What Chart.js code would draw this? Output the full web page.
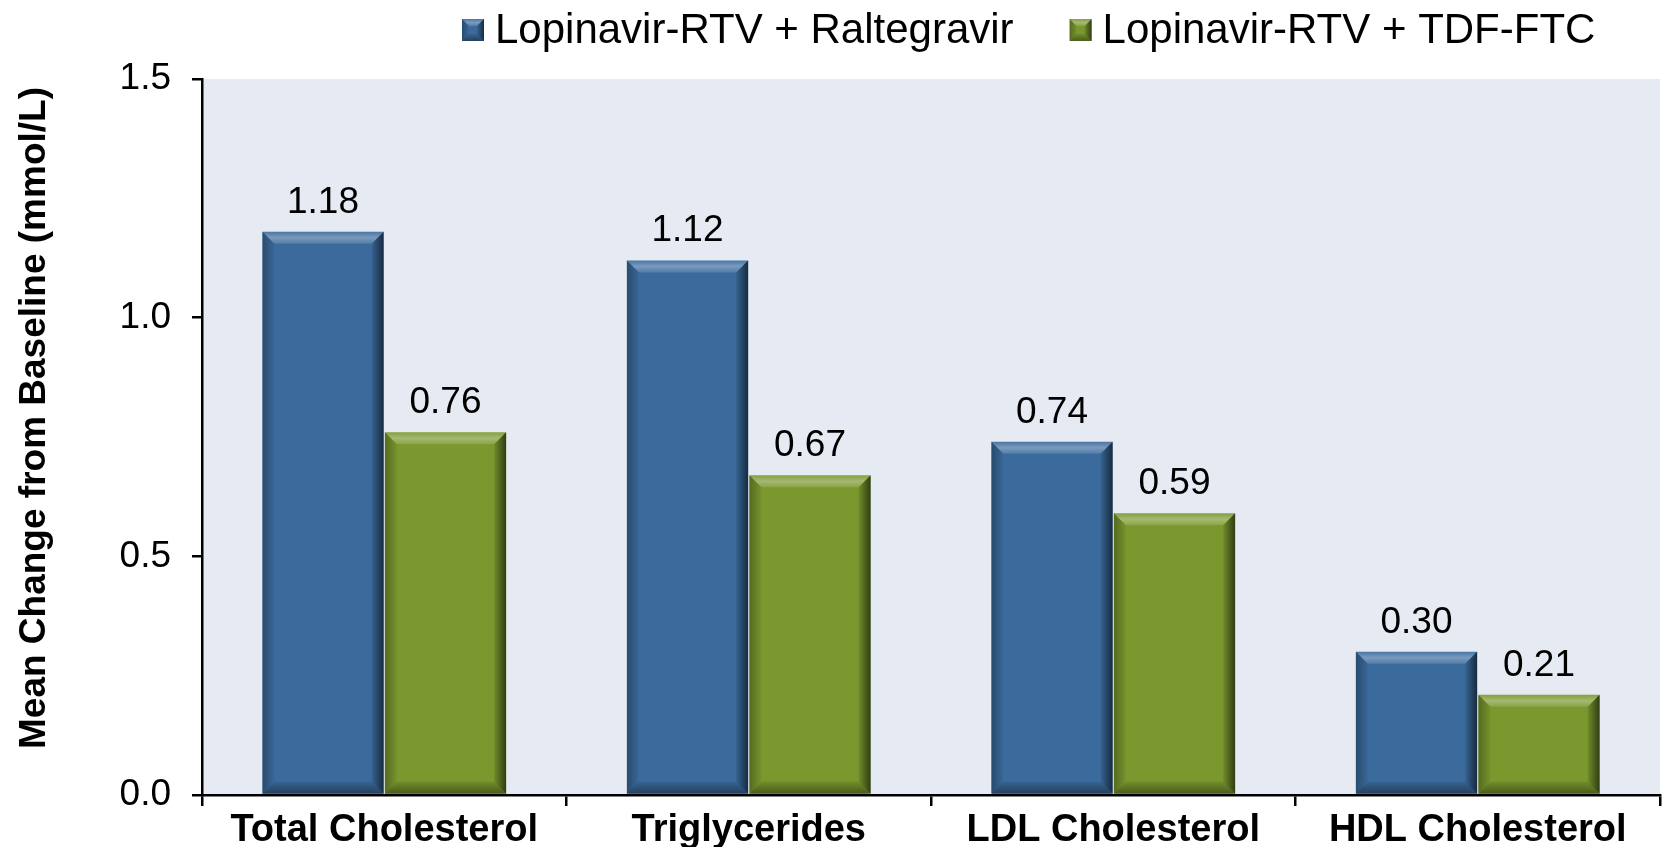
<!DOCTYPE html>
<html>
<head>
<meta charset="utf-8">
<title>Lipid changes</title>
<script src="https://cdn.jsdelivr.net/npm/chart.js@4.4.1/dist/chart.umd.min.js"></script>
<style>
  html, body { margin: 0; padding: 0; background: #fff; }
  canvas { display: block; }
</style>
</head>
<body>
<canvas id="lipids" width="1662" height="847"></canvas>
<script>
// Chart data
const categories = ['Total Cholesterol', 'Triglycerides', 'LDL Cholesterol', 'HDL Cholesterol'];
const seriesNames = ['Lopinavir-RTV + Raltegravir', 'Lopinavir-RTV + TDF-FTC'];
const raltegravirValues = [1.18, 1.12, 0.74, 0.30];
const tdfFtcValues = [0.76, 0.67, 0.59, 0.21];
const yTickValues = [0, 0.5, 1.0, 1.5];
const yTitle = 'Mean Change from Baseline (mmol/L)';

const FONT = '"Liberation Sans", Arial, Helvetica, sans-serif';
const colors = ['#3b6b9d', '#7a982e'];

// draws the bevelled edges over a rectangle
function drawBevel(ctx, l, t, r, b, w) {
  ctx.save();
  let g;
  // top face
  g = ctx.createLinearGradient(0, t, 0, t + w);
  g.addColorStop(0, 'rgba(255,255,255,0.08)');
  g.addColorStop(0.5, 'rgba(255,255,255,0.32)');
  g.addColorStop(1, 'rgba(255,255,255,0.12)');
  ctx.fillStyle = g;
  ctx.beginPath();
  ctx.moveTo(l, t); ctx.lineTo(r, t); ctx.lineTo(r - w, t + w); ctx.lineTo(l + w, t + w);
  ctx.closePath(); ctx.fill();
  // right face
  g = ctx.createLinearGradient(r - w, 0, r, 0);
  g.addColorStop(0, 'rgba(0,0,0,0.08)');
  g.addColorStop(1, 'rgba(0,0,0,0.6)');
  ctx.fillStyle = g;
  ctx.beginPath();
  ctx.moveTo(r, t); ctx.lineTo(r, b); ctx.lineTo(r - w, b - w); ctx.lineTo(r - w, t + w);
  ctx.closePath(); ctx.fill();
  // bottom face
  g = ctx.createLinearGradient(0, b - w, 0, b);
  g.addColorStop(0, 'rgba(0,0,0,0.08)');
  g.addColorStop(1, 'rgba(0,0,0,0.4)');
  ctx.fillStyle = g;
  ctx.beginPath();
  ctx.moveTo(l, b); ctx.lineTo(r, b); ctx.lineTo(r - w, b - w); ctx.lineTo(l + w, b - w);
  ctx.closePath(); ctx.fill();
  // left face
  g = ctx.createLinearGradient(l, 0, l + w, 0);
  g.addColorStop(0, 'rgba(0,0,0,0.3)');
  g.addColorStop(1, 'rgba(0,0,0,0.04)');
  ctx.fillStyle = g;
  ctx.beginPath();
  ctx.moveTo(l, t); ctx.lineTo(l + w, t + w); ctx.lineTo(l + w, b - w); ctx.lineTo(l, b);
  ctx.closePath(); ctx.fill();
  ctx.restore();
}

// plot area background
const plotBackground = {
  id: 'plotBackground',
  beforeDraw(chart) {
    const { ctx, chartArea: a } = chart;
    ctx.save();
    ctx.fillStyle = '#e6eaf2';
    ctx.fillRect(a.left, a.top, a.right - a.left, a.bottom - a.top);
    ctx.restore();
  }
};

// bevel + value labels on bars
const barDecor = {
  id: 'barDecor',
  afterDatasetsDraw(chart) {
    const ctx = chart.ctx;
    chart.data.datasets.forEach((ds, i) => {
      chart.getDatasetMeta(i).data.forEach((bar, j) => {
        const p = bar.getProps(['x', 'y', 'base', 'width'], true);
        const l = p.x - p.width / 2, r = p.x + p.width / 2;
        drawBevel(ctx, l, p.y, r, p.base, 12);
        ctx.save();
        ctx.fillStyle = '#000';
        ctx.font = '37px ' + FONT;
        ctx.textAlign = 'center';
        ctx.textBaseline = 'alphabetic';
        ctx.fillText(ds.data[j].toFixed(2), p.x, p.y - 19);
        ctx.restore();
      });
    });
  }
};

// legend at top and rotated axis title
const legendAndTitle = {
  id: 'legendAndTitle',
  afterDraw(chart) {
    const ctx = chart.ctx;
    ctx.save();
    ctx.font = '42px ' + FONT;
    ctx.textBaseline = 'alphabetic';
    ctx.textAlign = 'left';
    let x = 462;
    chart.data.datasets.forEach((ds, i) => {
      ctx.fillStyle = ds.backgroundColor;
      ctx.fillRect(x, 19, 22, 22);
      drawBevel(ctx, x, 19, x + 22, 41, 7);
      ctx.fillStyle = '#000';
      ctx.fillText(ds.label, x + 33, 43);
      x += 33 + ctx.measureText(ds.label).width + 56;
    });
    // y title
    ctx.translate(35, 418);
    ctx.rotate(-Math.PI / 2);
    ctx.font = 'bold 37px ' + FONT;
    ctx.textAlign = 'center';
    ctx.textBaseline = 'middle';
    ctx.fillText(yTitle, 0, 0);
    ctx.restore();
  }
};

new Chart(document.getElementById('lipids'), {
  type: 'bar',
  data: {
    labels: categories,
    datasets: [
      { label: seriesNames[0], data: raltegravirValues, backgroundColor: colors[0] },
      { label: seriesNames[1], data: tdfFtcValues, backgroundColor: colors[1] }
    ]
  },
  options: {
    responsive: false,
    animation: false,
    devicePixelRatio: 1,
    layout: { padding: { top: 79, right: 2, left: 0, bottom: 0 } },
    datasets: {
      bar: { categoryPercentage: 0.672, barPercentage: 0.99, borderWidth: 0 }
    },
    plugins: {
      legend: { display: false },
      tooltip: { enabled: false }
    },
    scales: {
      x: {
        z: 1,
        offset: true,
        grid: { offset: true, drawOnChartArea: false, drawTicks: true, tickLength: 11, color: '#000', lineWidth: 2.5 },
        border: { display: true, color: '#000', width: 2.5 },
        ticks: { color: '#000', font: { family: FONT, size: 38, weight: 'bold' }, padding: 2, maxRotation: 0 },
        afterFit(scale) { scale.height = 52; }
      },
      y: {
        z: 1,
        min: 0,
        max: 1.5,
        afterBuildTicks(scale) { scale.ticks = yTickValues.map(v => ({ value: v })); },
        grid: { drawOnChartArea: false, drawTicks: true, tickLength: 10, color: '#000', lineWidth: 2.5 },
        border: { display: true, color: '#000', width: 2.5 },
        ticks: {
          color: '#000',
          font: { family: FONT, size: 37 },
          padding: 21,
          callback: v => Number(v).toFixed(1)
        },
        afterFit(scale) { scale.width = 202; }
      }
    }
  },
  plugins: [plotBackground, barDecor, legendAndTitle]
});
</script>
</body>
</html>
